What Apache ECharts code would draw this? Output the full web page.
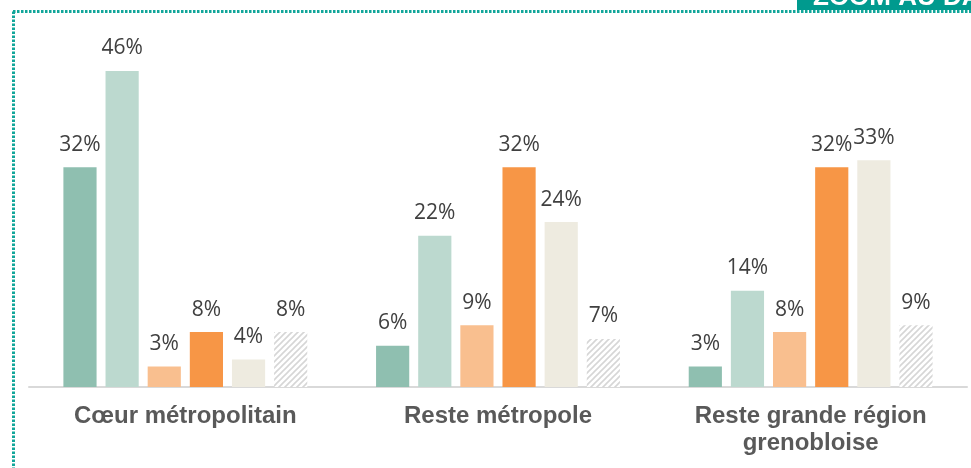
<!DOCTYPE html>
<html>
<head>
<meta charset="utf-8">
<script src="https://cdn.jsdelivr.net/npm/echarts@6/dist/echarts.min.js"></script>
<style>
  html, body { margin: 0; padding: 0; background: #fff; }
  #chart { width: 971px; height: 468px; }
</style>
</head>
<body>
<div id="chart"></div>
<script>
// categories (x axis)
const categories = ["Cœur métropolitain", "Reste métropole", "Reste grande région\ngrenobloise"];

// one array per bar series (values in %)
const serie1 = [32, 6, 3];
const serie2 = [46, 22, 14];
const serie3 = [3, 9, 8];
const serie4 = [8, 32, 32];
const serie5 = [4, 24, 33];
const serie6 = [8, 7, 9];

const seriesData = [serie1, serie2, serie3, serie4, serie5, serie6];

// hachures pour la dernière série
function hatch() {
  const c = document.createElement("canvas");
  c.width = 6;
  c.height = 6;
  const ctx = c.getContext("2d");
  ctx.fillStyle = "#ffffff";
  ctx.fillRect(0, 0, 6, 6);
  ctx.strokeStyle = "#d6d6d6";
  ctx.lineWidth = 1.6;
  ctx.beginPath();
  ctx.moveTo(-1, 7); ctx.lineTo(7, -1);
  ctx.moveTo(-4, 4); ctx.lineTo(4, -4);
  ctx.moveTo(2, 10); ctx.lineTo(10, 2);
  ctx.stroke();
  return { image: c, repeat: "repeat" };
}

const colors = ["#8fbfb0", "#bcd9cf", "#f9bf8f", "#f79646", "#eeebe0", hatch()];

const chart = echarts.init(document.getElementById("chart"));

const option = {
  animation: false,
  grid: { left: 29, right: 4, top: 43.5, bottom: 81 },
  xAxis: {
    type: "category",
    data: categories,
    axisTick: { show: false },
    axisLine: { lineStyle: { color: "#d9d9d9", width: 2 } },
    axisLabel: {
      margin: 16,
      fontFamily: "'Liberation Sans', Arial",
      fontWeight: "bold",
      fontSize: 24,
      lineHeight: 27,
      color: "#595959",
      interval: 0,
    },
  },
  yAxis: {
    type: "value",
    min: 0,
    max: 50,
    show: false,
    splitLine: { show: false },
  },
  series: seriesData.map((d, i) => ({
    type: "bar",
    data: d,
    barGap: "27%",
    barCategoryGap: "22%",
    itemStyle: { color: colors[i] },
    label: {
      show: true,
      position: "top",
      distance: 12,
      formatter: "{c}%",
      fontFamily: "Open Sans",
      fontSize: 21,
      color: "#404040",
    },
  })),
  graphic: [
    {
      type: "line",
      shape: { x1: 13, y1: 11.5, x2: 971, y2: 11.5 },
      style: { stroke: "#12a69a", lineWidth: 3, lineDash: [2.5, 1.5] },
      z: 10,
    },
    {
      type: "line",
      shape: { x1: 13.5, y1: 11.5, x2: 13.5, y2: 468 },
      style: { stroke: "#12a69a", lineWidth: 3, lineDash: [2.5, 1.5] },
      z: 10,
    },
    {
      type: "rect",
      shape: { x: 797, y: 0, width: 174, height: 10 },
      style: { fill: "#009a8e" },
      z: 11,
    },
    {
      type: "text",
      x: 813,
      y: -2.5,
      style: {
        text: "ZOOM AU DA",
        font: "bold 26px 'Liberation Sans'",
        fill: "#ffffff",
        verticalAlign: "middle",
      },
      z: 12,
    },
  ],
};

chart.setOption(option);
</script>
</body>
</html>
